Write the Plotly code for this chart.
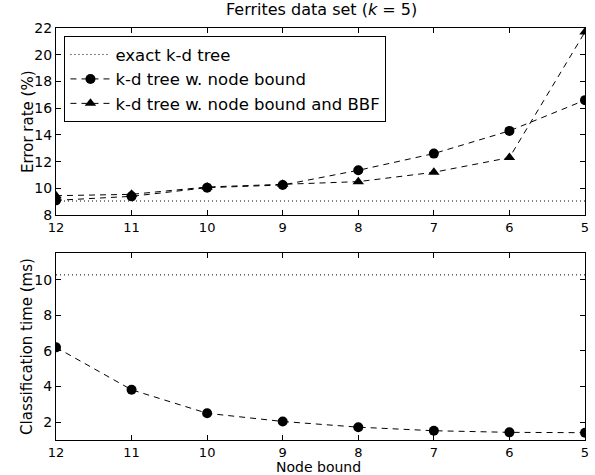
import plotly.graph_objects as go
from plotly.subplots import make_subplots

node_bound = [12, 11, 10, 9, 8, 7, 6, 5]
err_exact = 9.05
err_node = [9.1, 9.4, 10.05, 10.25, 11.35, 12.6, 14.3, 16.6]
err_bbf = [9.45, 9.55, 10.1, 10.3, 10.5, 11.2, 12.3, 21.7]
time_exact = 10.27
time_node = [6.2, 3.82, 2.5, 2.04, 1.72, 1.52, 1.43, 1.41]

x_ticks = [12, 11, 10, 9, 8, 7, 6, 5]
err_ticks = [8, 10, 12, 14, 16, 18, 20, 22]
time_ticks = [2, 4, 6, 8, 10]

FONT = "DejaVu Sans"

fig = make_subplots(rows=2, cols=1, vertical_spacing=0.092)

fig.add_trace(go.Scatter(x=node_bound, y=[err_exact] * len(node_bound), mode="lines",
                         line=dict(color="black", width=1, dash="1px,3px"),
                         name="exact k-d tree"), row=1, col=1)
fig.add_trace(go.Scatter(x=node_bound, y=err_node, mode="lines+markers",
                         line=dict(color="black", width=1, dash="6px,5px"),
                         marker=dict(symbol="circle", size=10, color="black"),
                         name="k-d tree w. node bound"), row=1, col=1)
fig.add_trace(go.Scatter(x=node_bound, y=err_bbf, mode="lines+markers",
                         line=dict(color="black", width=1, dash="6px,5px"),
                         marker=dict(symbol="triangle-up", size=10, color="black"),
                         name="k-d tree w. node bound and BBF"), row=1, col=1)

fig.add_trace(go.Scatter(x=node_bound, y=[time_exact] * len(node_bound), mode="lines",
                         line=dict(color="black", width=1, dash="1px,3px"),
                         showlegend=False), row=2, col=1)
fig.add_trace(go.Scatter(x=node_bound, y=time_node, mode="lines+markers",
                         line=dict(color="black", width=1, dash="6px,5px"),
                         marker=dict(symbol="circle", size=10, color="black"),
                         showlegend=False), row=2, col=1)

axis_common = dict(showline=True, linecolor="black", linewidth=1, mirror="ticks",
                   ticks="inside", ticklen=5, tickcolor="black", tickwidth=1,
                   showgrid=False, zeroline=False, ticklabeloverflow="allow",
                   automargin=False)

TITLE_FONT = dict(family=FONT, size=15, color="black")

fig.update_xaxes(range=[12, 5], tickvals=x_ticks, **axis_common,
                 tickfont=dict(family=FONT, size=13, color="black"))
fig.update_yaxes(range=[8, 22], tickvals=err_ticks, **axis_common,
                 tickfont=dict(family=FONT, size=14, color="black"), row=1, col=1)
fig.update_yaxes(range=[1, 11.5], tickvals=time_ticks, **axis_common,
                 tickfont=dict(family=FONT, size=14, color="black"), row=2, col=1)

fig.add_annotation(text="Node bound", xref="paper", yref="paper", x=0.497, y=-0.066,
                   xanchor="center", yanchor="middle", showarrow=False,
                   font=dict(family=FONT, size=14, color="black"))
fig.add_annotation(text="Error rate (%)", xref="paper", yref="paper", x=-0.054, y=0.773,
                   xanchor="center", yanchor="middle", textangle=-90, showarrow=False,
                   font=TITLE_FONT)
fig.add_annotation(text="Classification time (ms)", xref="paper", yref="paper", x=-0.054,
                   y=0.227, xanchor="center", yanchor="middle", textangle=-90,
                   showarrow=False, font=TITLE_FONT)

fig.update_layout(
    width=595, height=475,
    margin=dict(l=56, r=10, t=28, b=35),
    paper_bgcolor="white", plot_bgcolor="white",
    font=dict(family=FONT, size=14, color="black"),
    title=dict(text="Ferrites data set (<i>k</i> = 5)", x=0.5405, xanchor="center",
               y=0.981, yanchor="middle", font=dict(family=FONT, size=16, color="black")),
    legend=dict(x=0.016, y=0.98, xanchor="left", yanchor="top",
                bordercolor="black", borderwidth=1, bgcolor="white",
                font=dict(family=FONT, size=16.5, color="black"),
                tracegroupgap=0, itemwidth=40),
    showlegend=True,
)

fig.write_html("out.html", config={"displayModeBar": False},
               post_script="document.body.style.margin='0';document.body.style.overflow='hidden';")
